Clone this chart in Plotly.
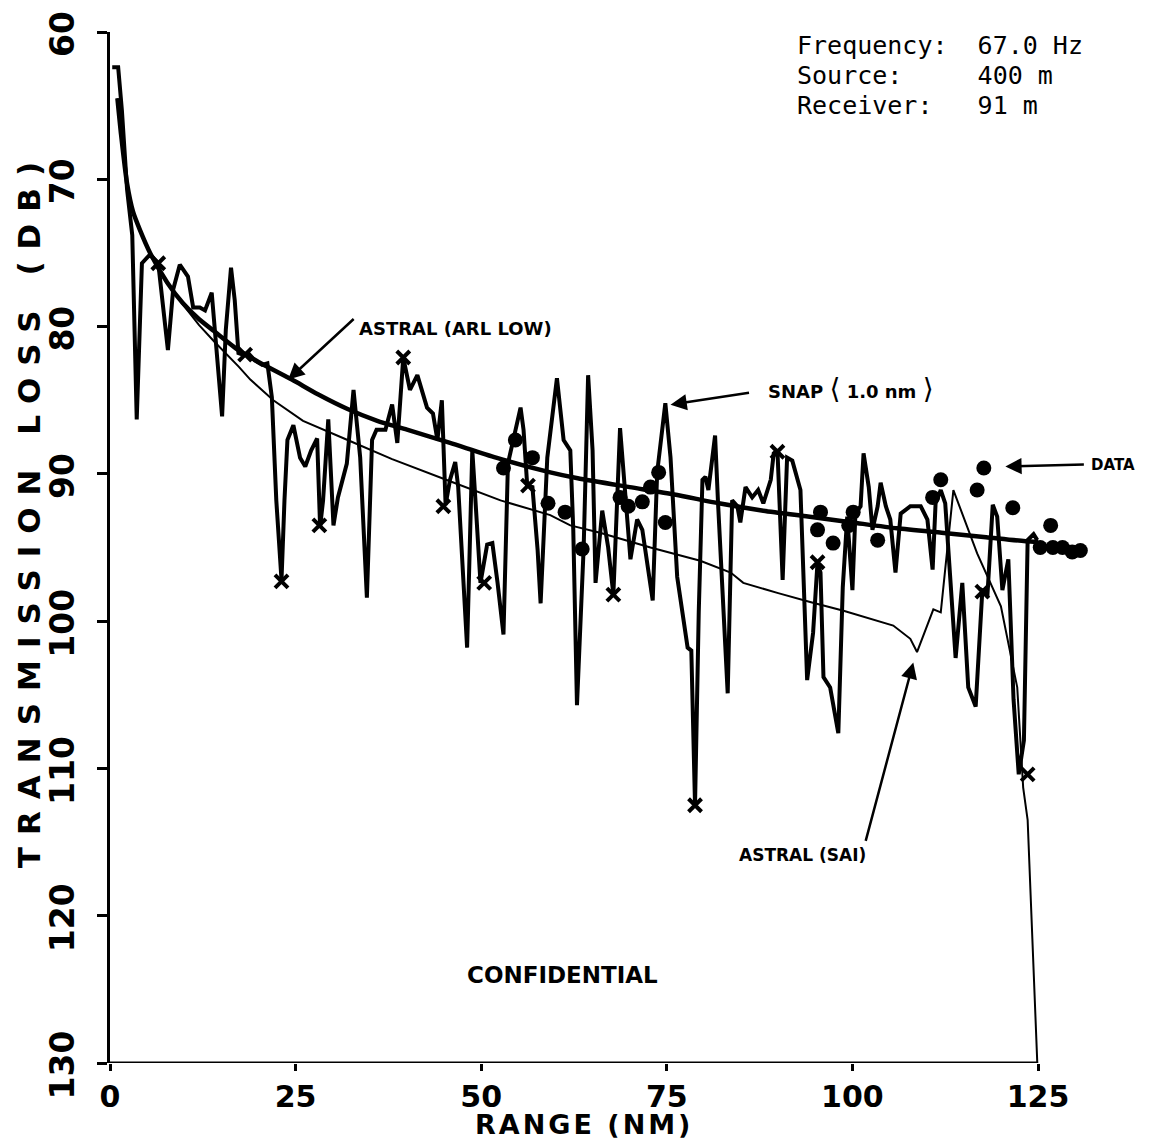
import plotly.graph_objects as go

# ---------------- data (range in NM, transmission loss in dB) ----------------
astral_arl_low = [(1.0, 64.5), (1.5, 67.0), (2.3, 70.3), (3.1, 72.2), (4.0, 73.4), (5.4, 75.0),
                  (7.7, 77.0), (9.8, 78.4), (12.0, 79.5), (14.0, 80.3), (17.3, 81.6), (20.0, 82.4),
                  (24.5, 83.6), (28.0, 84.6), (32.0, 85.6), (36.0, 86.4), (40.0, 87.0), (45.8, 87.9),
                  (52.0, 88.9), (59.3, 89.9), (63.0, 90.3), (70.0, 90.9), (76.0, 91.4), (82.0, 92.0),
                  (88.0, 92.5), (94.0, 92.9), (100.0, 93.3), (106.0, 93.7), (112.0, 94.0),
                  (118.0, 94.3), (124.0, 94.6), (125.0, 94.6)]

astral_sai = [(1.0, 64.5), (1.5, 67.0), (2.3, 70.3), (3.1, 72.2), (4.0, 73.4), (5.4, 75.0),
              (7.7, 77.0), (9.8, 78.5), (12.0, 79.9), (14.0, 81.0), (17.3, 82.7), (18.9, 83.6),
              (22.0, 85.0), (26.0, 86.4), (32.0, 87.7), (38.0, 89.0), (45.8, 90.5), (52.6, 91.8),
              (59.3, 92.8), (62.0, 93.5), (66.0, 94.0), (72.8, 95.0), (79.5, 95.9), (83.6, 96.7),
              (85.3, 97.4), (87.2, 97.7), (90.0, 98.1), (94.3, 98.7), (98.8, 99.3), (105.5, 100.3),
              (107.8, 101.2), (108.7, 102.1), (110.9, 99.2), (111.9, 99.4), (113.6, 91.1),
              (116.8, 95.4), (120.0, 99.0), (122.2, 104.5), (123.0, 111.3), (123.6, 113.5),
              (124.3, 122.0), (124.9, 130.0)]

snap_1nm = [(0.3, 62.4), (1.1, 62.4), (1.6, 65.3), (2.3, 70.7), (3.0, 73.8), (3.6, 86.3), (4.3, 75.7),
            (5.4, 75.1), (6.5, 75.7), (7.1, 78.2), (7.8, 81.6), (8.5, 77.5), (9.4, 75.8), (10.5, 76.6),
            (11.2, 78.7), (12.1, 78.7), (12.8, 78.9), (13.7, 77.7), (14.4, 82.3), (15.1, 86.1),
            (15.6, 80.2), (16.3, 76.0), (16.8, 78.2), (17.3, 81.8), (17.9, 81.9), (18.6, 81.8),
            (19.5, 82.3), (20.5, 82.6), (21.2, 82.5), (21.8, 84.8), (22.4, 91.8), (23.1, 97.2),
            (23.5, 91.8), (23.9, 87.7), (24.7, 86.7), (25.6, 88.9), (26.3, 89.5), (27.1, 88.4),
            (27.9, 87.6), (28.3, 93.6), (28.7, 91.8), (29.4, 86.3), (30.1, 93.5), (30.7, 91.6),
            (31.9, 89.3), (32.8, 84.3), (33.7, 88.9), (34.6, 98.4), (35.3, 87.7), (35.9, 87.0),
            (37.1, 87.0), (38.0, 85.3), (38.7, 87.9), (39.5, 82.1), (40.4, 84.3), (41.4, 83.3),
            (42.7, 85.5), (43.5, 85.9), (44.1, 87.7), (44.7, 85.0), (45.2, 92.1), (45.8, 90.4),
            (46.5, 89.2), (46.9, 90.9), (48.1, 101.8), (48.8, 88.4), (49.2, 91.6), (49.9, 97.4),
            (50.8, 94.8), (51.5, 94.7), (52.2, 97.4), (53.0, 100.9), (53.6, 89.3), (54.3, 87.7),
            (55.3, 85.5), (55.7, 87.0), (56.2, 90.8), (56.9, 90.9), (57.6, 95.2), (58.0, 98.8),
            (58.9, 88.9), (60.2, 83.5), (61.1, 87.7), (62.0, 88.4), (62.4, 93.8), (62.9, 105.7),
            (63.8, 95.0), (64.4, 83.3), (65.0, 88.4), (65.4, 97.4), (66.3, 92.5), (67.1, 95.0),
            (67.8, 98.2), (68.7, 86.9), (69.4, 91.1), (70.1, 95.8), (71.0, 93.1), (71.7, 93.8),
            (73.1, 98.6), (73.7, 89.9), (74.8, 85.2), (75.5, 88.9), (76.4, 97.0), (77.8, 101.8),
            (78.3, 102.0), (78.8, 112.5), (79.3, 99.4), (79.8, 90.4), (80.2, 90.2), (80.6, 91.1),
            (81.5, 87.4), (81.9, 92.0), (83.2, 104.9), (83.8, 91.8), (84.5, 92.2), (84.9, 93.3),
            (85.6, 90.9), (86.5, 91.6), (87.3, 91.1), (88.0, 92.0), (89.0, 90.4), (89.4, 88.6),
            (89.9, 88.4), (90.6, 97.2), (91.2, 88.9), (91.9, 89.1), (93.0, 91.1), (93.9, 104.0),
            (94.7, 100.8), (95.3, 96.0), (95.7, 96.7), (96.1, 103.8), (97.0, 104.5), (98.1, 107.6),
            (98.7, 97.7), (99.3, 92.9), (100.0, 97.9), (100.4, 92.7), (101.1, 92.2), (101.5, 88.6),
            (102.2, 90.9), (102.7, 93.8), (103.4, 92.2), (103.8, 90.6), (104.5, 92.2), (105.1, 93.1),
            (105.8, 96.7), (106.5, 92.7), (107.8, 92.2), (109.2, 92.2), (110.1, 93.1), (110.8, 96.5),
            (111.2, 92.0), (111.9, 91.1), (112.5, 92.0), (113.9, 102.5), (114.8, 97.4),
            (115.6, 104.5), (116.6, 105.8), (117.5, 97.9), (118.2, 98.1), (118.9, 92.1),
            (119.5, 92.9), (120.2, 97.9), (121.0, 95.8), (121.7, 105.3), (122.4, 110.4),
            (123.1, 108.1), (123.6, 94.5), (124.4, 94.1), (124.9, 94.5)]

snap_markers = [(6.5, 75.7), (18.2, 81.9), (23.1, 97.3), (28.2, 93.5), (39.5, 82.1), (44.9, 92.2),
                (50.4, 97.4), (56.3, 90.8), (67.8, 98.2), (78.8, 112.5), (89.9, 88.5), (95.3, 96.0),
                (117.5, 98.0), (123.6, 110.4)]

measured_data = [(53.0, 89.6), (54.6, 87.7), (56.9, 88.9), (59.0, 92.0), (61.3, 92.6), (63.6, 95.1),
                 (68.7, 91.6), (69.8, 92.2), (71.7, 91.9), (72.8, 90.9), (73.9, 89.9), (74.8, 93.3),
                 (95.3, 93.8), (95.7, 92.6), (97.4, 94.7), (99.5, 93.5), (100.1, 92.6), (103.4, 94.5),
                 (110.8, 91.6), (111.9, 90.4), (116.8, 91.1), (117.7, 89.6), (121.6, 92.3),
                 (125.3, 95.0), (126.7, 93.5), (127.0, 95.0), (128.3, 95.0), (129.6, 95.3),
                 (130.7, 95.2)]

x_ticks = [0, 25, 50, 75, 100, 125]
y_ticks = [60, 70, 80, 90, 100, 110, 120, 130]

info_lines = ["Frequency:  67.0 Hz", "Source:     400 m", "Receiver:   91 m"]


def xs(pts):
    return [p[0] for p in pts]


def ys(pts):
    return [p[1] for p in pts]


BOLD = dict(family="DejaVu Sans", color="black", weight="bold")

fig = go.Figure()
fig.add_trace(go.Scatter(x=xs(astral_sai), y=ys(astral_sai), mode="lines",
                         line=dict(color="black", width=2), name="ASTRAL (SAI)"))
fig.add_trace(go.Scatter(x=xs(astral_arl_low), y=ys(astral_arl_low), mode="lines",
                         line=dict(color="black", width=4.5, shape="spline", smoothing=0.6),
                         name="ASTRAL (ARL LOW)"))
fig.add_trace(go.Scatter(x=xs(snap_1nm), y=ys(snap_1nm), mode="lines",
                         line=dict(color="black", width=4), name="SNAP (1.0 nm)"))
fig.add_trace(go.Scatter(x=xs(snap_markers), y=ys(snap_markers), mode="markers",
                         marker=dict(symbol="x-thin", size=13, line=dict(color="black", width=4)),
                         name="SNAP markers"))
fig.add_trace(go.Scatter(x=xs(measured_data), y=ys(measured_data), mode="markers",
                         marker=dict(symbol="circle", size=15, color="black"), name="DATA",
                         cliponaxis=False))

# bottom axis line (ends at 125 NM as in the original)
fig.add_shape(type="line", xref="x", yref="y", x0=0, x1=125, y0=130, y1=130,
              line=dict(color="black", width=3))

annotations = []
# arrows
arrow_specs = [
    (24.0, 83.6, 67, -62),     # ASTRAL (ARL LOW)
    (75.5, 85.3, 80, -12),     # SNAP
    (120.6, 89.5, 80, -2),     # DATA
    (108.2, 102.8, -48, 180),  # ASTRAL (SAI)
]
for (tx, ty, ax, ay) in arrow_specs:
    annotations.append(dict(x=tx, y=ty, xref="x", yref="y", ax=ax, ay=ay, text="",
                            showarrow=True, arrowhead=2, arrowsize=1.3, arrowwidth=2.5,
                            arrowcolor="black"))

BR = "<span style='font-size:28px;font-weight:normal'>{}</span>"
labels = [
    ("ASTRAL (ARL LOW)", 46.6, 80.1, 18),
    ("SNAP " + BR.format("⟨") + " 1.0 nm " + BR.format("⟩"), 99.8, 84.2, 18),
    ("ASTRAL (SAI)", 93.3, 115.9, 17),
    ("CONFIDENTIAL", 61.0, 124.0, 23),
]
for (txt, lx, ly, sz) in labels:
    annotations.append(dict(x=lx, y=ly, xref="x", yref="y", text=txt, showarrow=False,
                            xanchor="center", yanchor="middle", font=dict(size=sz, **BOLD)))

# "DATA" label sits right of the plotted range, so place it in paper units
annotations.append(dict(x=1.0235, xref="paper", y=89.4, yref="y", text="DATA", showarrow=False,
                        xanchor="center", yanchor="middle", font=dict(size=15, **BOLD)))

for i, line in enumerate(info_lines):
    annotations.append(dict(x=92.3, y=60.9 + i * 2.04, xref="x", yref="y", text=line,
                            showarrow=False, xanchor="left", yanchor="middle",
                            font=dict(family="DejaVu Sans Mono", size=25, color="black")))

# axis titles
annotations.append(dict(x=0, xref="paper", xshift=-81, y=92.4, yref="y", textangle=-90,
                        text='<span style="letter-spacing:12px">TRANSMISSION LOSS (DB)</span>',
                        showarrow=False, xanchor="center", yanchor="middle",
                        font=dict(size=31, **BOLD)))
annotations.append(dict(x=63.8, xref="x", y=0, yref="paper", yshift=-61,
                        text='<span style="letter-spacing:3px">RANGE (NM)</span>',
                        showarrow=False, xanchor="center", yanchor="middle",
                        font=dict(size=27, **BOLD)))

# the page body adds an 8px offset, so the figure is laid out 8px smaller/earlier
fig.update_layout(
    width=1148, height=1133,
    margin=dict(l=102, r=66, t=24, b=78, autoexpand=False),
    paper_bgcolor="white", plot_bgcolor="white",
    showlegend=False,
    annotations=annotations,
    xaxis=dict(range=[0, 132], tickvals=x_ticks, ticktext=[str(v) for v in x_ticks],
               showgrid=False, zeroline=False, showline=False, automargin=False,
               ticks="outside", ticklen=7, tickwidth=3, tickcolor="black",
               tickfont=dict(size=30, **BOLD), ticklabelstandoff=0,
               ticklabeloverflow="allow"),
    yaxis=dict(range=[130, 60], tickvals=y_ticks, ticktext=[str(v) for v in y_ticks],
               showgrid=False, zeroline=False, showline=True, linecolor="black", linewidth=3,
               automargin=False,
               ticks="outside", ticklen=10, tickwidth=3, tickcolor="black", tickangle=-90,
               tickfont=dict(size=33, **BOLD), ticklabelstandoff=10, ticklabelshift=-7,
               ticklabeloverflow="allow"),
)

fig.write_html("out.html")
